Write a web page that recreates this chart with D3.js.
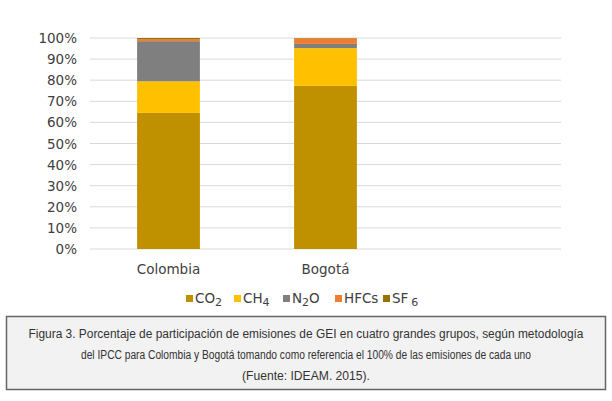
<!DOCTYPE html>
<html><head><meta charset="utf-8">
<script src="https://cdn.jsdelivr.net/npm/d3@7"></script>
<style>body{margin:0;background:#fff}</style>
</head><body>
<script>
var categories = ["Colombia", "Bogotá", ""];
var gases = ["CO2", "CH4", "N2O", "HFCs", "SF6"];
var colombia = [64.5, 15.0, 19.0, 1.0, 0.5];
var bogota = [77.3, 17.9, 2.0, 2.6, 0.2];
var yTicks = [0, 10, 20, 30, 40, 50, 60, 70, 80, 90, 100];
var colors = ["#bf9000", "#ffc000", "#7f7f7f", "#ed7d31", "#997300"];

var width = 612, height = 401;
var svg = d3.select("body").append("svg").attr("width", width).attr("height", height);

var x = d3.scaleBand().domain(categories).range([90, 561]).paddingInner(0.6).paddingOuter(0.3);
var y = d3.scaleLinear().domain([0, 100]).range([249, 38]);

// grid
svg.selectAll("line.grid").data(yTicks).enter().append("line")
    .attr("x1", 90).attr("x2", 561)
    .attr("y1", function(d) { return y(d); }).attr("y2", function(d) { return y(d); })
    .attr("stroke", "#d9d9d9").attr("stroke-width", 1);

svg.selectAll("text.ytick").data(yTicks).enter().append("text")
    .attr("x", 77).attr("y", function(d) { return y(d) + 5; })
    .attr("text-anchor", "end").attr("font-family", "DejaVu Sans").attr("font-size", 13.5)
    .attr("fill", "#404040").text(function(d) { return d + "%"; });

// stacked bars
var rows = [colombia, bogota].map(function(vals, i) {
    var r = {cat: categories[i]};
    gases.forEach(function(g, j) { r[g] = vals[j]; });
    return r;
});
var series = d3.stack().keys(gases)(rows);
svg.selectAll("g.s").data(series).enter().append("g")
    .attr("fill", function(d, i) { return colors[i]; })
  .selectAll("rect").data(function(d) { return d; }).enter().append("rect")
    .attr("x", function(d) { return x(d.data.cat); })
    .attr("width", x.bandwidth())
    .attr("y", function(d) { return y(d[1]); })
    .attr("height", function(d) { return y(d[0]) - y(d[1]); });

svg.selectAll("text.xcat").data(categories.slice(0, 2)).enter().append("text")
    .attr("x", function(d) { return x(d) + x.bandwidth() / 2; }).attr("y", 274)
    .attr("text-anchor", "middle").attr("font-family", "DejaVu Sans").attr("font-size", 13.5)
    .attr("fill", "#404040").text(function(d) { return d; });

// legend
var legendItems = [["CO", "2"], ["CH", "4"], ["N", "2", "O"], ["HFCs"], ["SF", "6"]];
var lx = [186, 234, 283, 335, 383];
legendItems.forEach(function(it, i) {
    svg.append("rect").attr("x", lx[i]).attr("y", 295).attr("width", 7).attr("height", 7).attr("fill", colors[i]);
    var t = svg.append("text").attr("x", lx[i] + 9).attr("y", 303)
        .attr("font-family", "DejaVu Sans").attr("font-size", 13.5).attr("fill", "#404040");
    t.append("tspan").text(it[0]);
    if (it[1]) t.append("tspan").attr("dy", 3).attr("dx", i == 4 ? 3 : 0).attr("font-size", 11).text(it[1]);
    if (it[2]) t.append("tspan").attr("dy", -3).text(it[2]);
});

// caption
svg.append("rect").attr("x", 6.5).attr("y", 316.5).attr("width", 599).attr("height", 73)
    .attr("fill", "#f2f2f2").attr("stroke", "#666").attr("stroke-width", 1.5);
var caption = ["Figura 3. Porcentaje de participación de emisiones de GEI en cuatro grandes grupos, según metodología",
    "del IPCC para Colombia y Bogotá tomando como referencia el 100% de las emisiones de cada uno",
    "(Fuente: IDEAM. 2015)."];
svg.selectAll("text.cap").data(caption).enter().append("text")
    .attr("x", 306).attr("y", function(d, i) { return 338 + i * 21; })
    .attr("text-anchor", "middle").attr("font-family", "Liberation Sans, Arial").attr("font-size", 12)
    .attr("fill", "#333").attr("textLength", function(d, i) { return [555, 450, 128][i]; })
    .attr("lengthAdjust", "spacingAndGlyphs").text(function(d) { return d; });
</script>
</body></html>
